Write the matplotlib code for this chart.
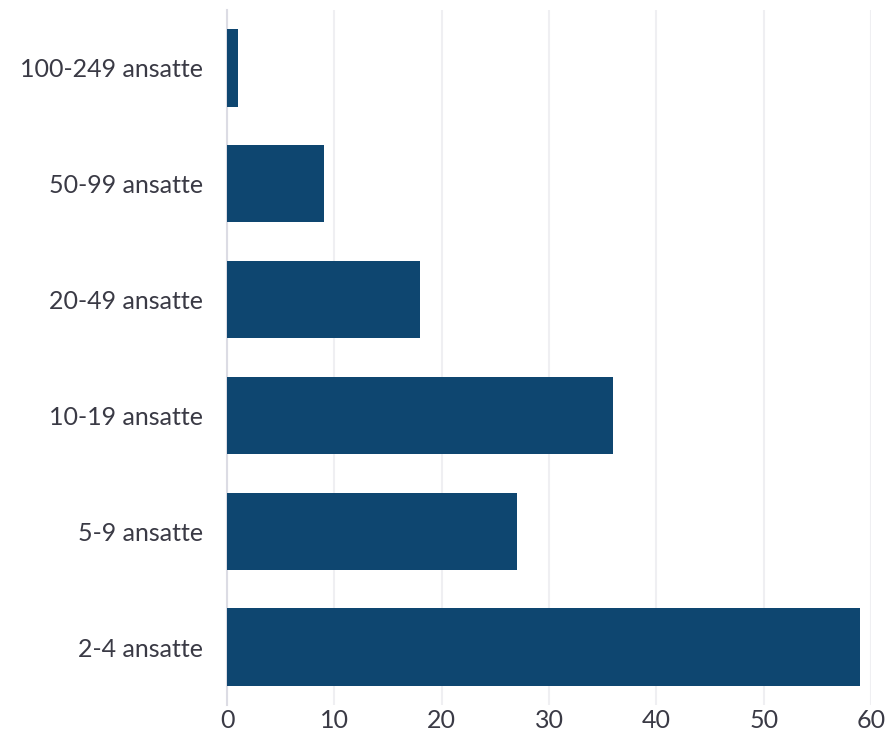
import matplotlib.pyplot as plt

categories = ['2-4 ansatte', '5-9 ansatte', '10-19 ansatte', '20-49 ansatte',
              '50-99 ansatte', '100-249 ansatte']
values = [59, 27, 36, 18, 9, 1]
x_ticks = [0, 10, 20, 30, 40, 50, 60]

BAR_COLOR = '#0e4670'
TEXT_COLOR = '#3a3a45'

plt.rcParams['font.family'] = ['Lato', 'DejaVu Sans']

fig = plt.figure(figsize=(8.9, 7.46), dpi=100)
ax = fig.add_axes([0.2551, 0.055, 0.7236, 0.9316])

pos = list(range(len(categories)))
ax.barh(pos, values, height=0.667, color=BAR_COLOR, zorder=3)

ax.set_xlim(0, 60)
ax.set_ylim(-0.5, 5.5)
ax.set_xticks(x_ticks)
ax.set_yticks(pos)
ax.set_yticklabels(categories)

ax.grid(axis='x', color='#efeff2', linewidth=1.5, zorder=0)
for s in ['top', 'right', 'bottom']:
    ax.spines[s].set_visible(False)
ax.spines['left'].set_color('#dcdce4')
ax.spines['left'].set_linewidth(1.5)

ax.tick_params(axis='both', length=0, labelsize=18, colors=TEXT_COLOR)
ax.tick_params(axis='y', pad=17)
ax.tick_params(axis='x', pad=3)

fig.savefig('out.png', dpi=100)
